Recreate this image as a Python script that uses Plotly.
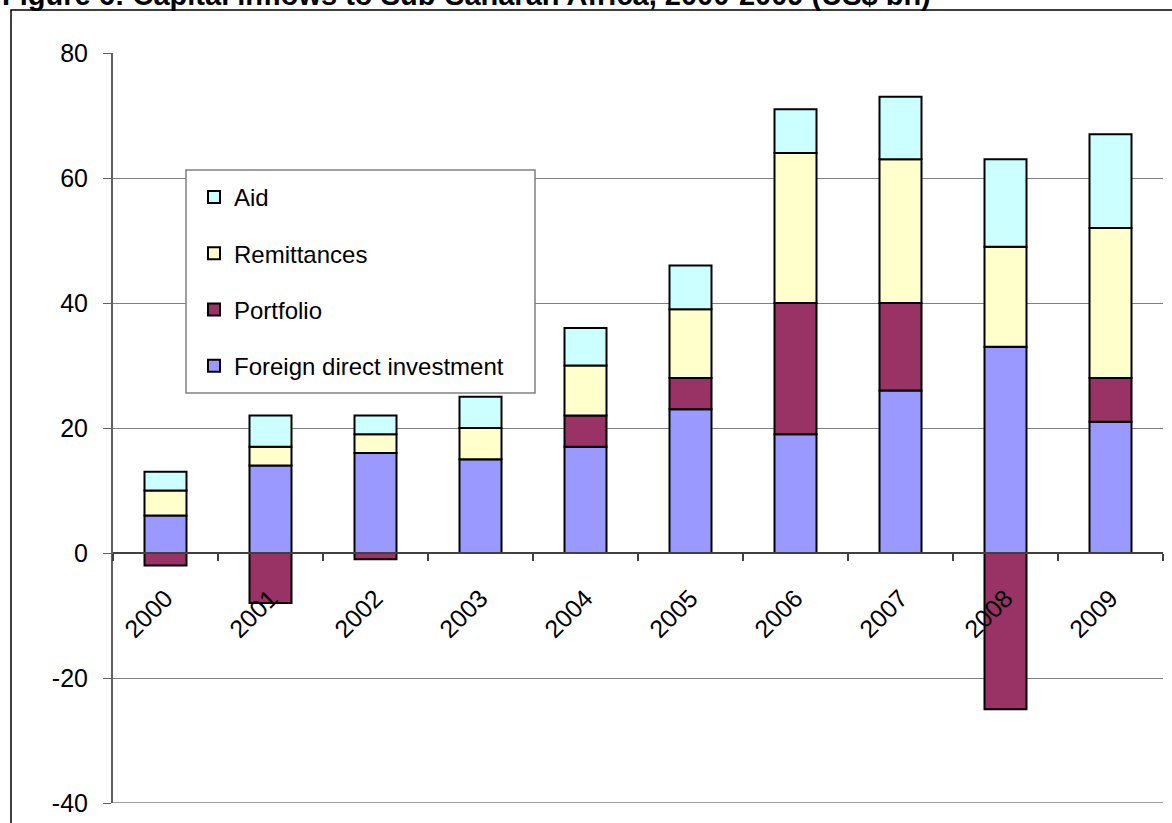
import plotly.graph_objects as go

years = ["2000", "2001", "2002", "2003", "2004", "2005", "2006", "2007", "2008", "2009"]
fdi = [6, 14, 16, 15, 17, 23, 19, 26, 33, 21]
portfolio = [-2, -8, -1, 0, 5, 5, 21, 14, -25, 7]
remittances = [4, 3, 3, 5, 8, 11, 24, 23, 16, 24]
aid = [3, 5, 3, 5, 6, 7, 7, 10, 14, 15]

y_tickvals = [-40, -20, 0, 20, 40, 60, 80]
y_ticktext = ["-40", "-20", "0", "20", "40", "60", "80"]

title_text = "Figure 6: Capital inflows to Sub-Saharan Africa, 2000-2009 (US$ bn)"

# (name, values, fill colour, legend position from top)
series = [
    ("Foreign direct investment", fdi, "#9999FF", 4),
    ("Portfolio", portfolio, "#993366", 3),
    ("Remittances", remittances, "#FFFFCC", 2),
    ("Aid", aid, "#CCFFFF", 1),
]

FONT = "Liberation Sans, Arial, sans-serif"

fig = go.Figure()
for name, vals, color, rank in series:
    fig.add_trace(go.Bar(
        x=years, y=vals, name=name, legendgroup=name, legendrank=rank,
        marker=dict(color=color, line=dict(color="#000000", width=2)),
        width=0.4,
    ))

W, H = 1172, 823
L, R, T, B = 113, 9, 53, 20
pw, ph = W - L - R, H - T - B


def px_x(p):
    return (p - L) / pw


def px_y(p):
    return (H - B - p) / ph


fig.update_layout(
    width=W, height=H,
    margin=dict(l=L, r=R, t=T, b=B, autoexpand=False),
    paper_bgcolor="white", plot_bgcolor="white",
    barmode="relative",
    font=dict(family=FONT, size=24, color="#000000"),
    showlegend=True,
    legend=dict(
        x=px_x(194), y=px_y(175), xanchor="left", yanchor="top",
        bgcolor="rgba(0,0,0,0)", borderwidth=0,
        traceorder="grouped", tracegroupgap=22,
        itemwidth=30, font=dict(size=24, family=FONT),
    ),
    xaxis=dict(
        type="category", anchor="free", position=px_y(553),
        showline=True, linecolor="#404040", linewidth=1.5,
        ticks="outside", ticklen=7, tickcolor="#404040", tickwidth=1.5,
        tickson="boundaries", tickangle=-45, showgrid=False,
        ticklabelstandoff=20, automargin=False,
        tickfont=dict(size=25, family=FONT),
    ),
    yaxis=dict(
        range=[-40, 80], tickvals=y_tickvals, ticktext=y_ticktext,
        showline=True, linecolor="#606060", linewidth=2,
        ticks="outside", ticklen=8, tickcolor="#606060",
        showgrid=True, gridcolor="#808080", gridwidth=1,
        zeroline=False, ticklabelstandoff=10, automargin=False,
        tickfont=dict(size=25, family=FONT),
    ),
    shapes=[
        # outer frame around the whole figure
        dict(
            type="rect", xref="paper", yref="paper",
            x0=px_x(11), x1=px_x(1200), y0=px_y(840), y1=px_y(10),
            line=dict(color="#000000", width=1.5), fillcolor="rgba(0,0,0,0)",
            layer="below",
        ),
        # bottom edge of the plot area
        dict(
            type="line", xref="paper", yref="y",
            x0=0, x1=1, y0=-40, y1=-40,
            line=dict(color="#808080", width=1.5), layer="below",
        ),
        # legend box
        dict(
            type="rect", xref="paper", yref="paper",
            x0=px_x(186), x1=px_x(535), y0=px_y(393), y1=px_y(170),
            line=dict(color="#808080", width=1.5), fillcolor="white",
            layer="above",
        ),
    ],
    annotations=[dict(
        text="<b>" + title_text + "</b>",
        xref="paper", yref="paper", x=px_x(0), y=px_y(13),
        xanchor="left", yanchor="bottom", showarrow=False,
        font=dict(size=29, family=FONT, color="#000000"),
    )],
)

fig.write_html("out.html")
